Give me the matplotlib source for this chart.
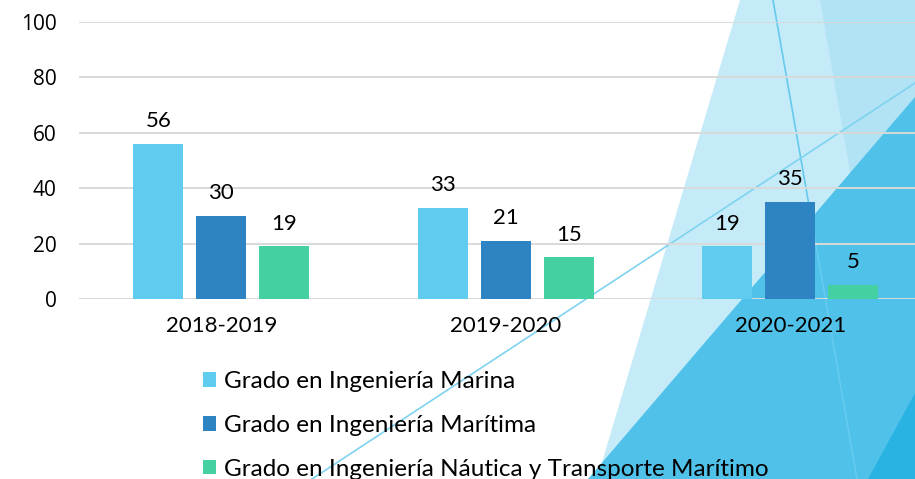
#bar chart of enrolment per degree and academic year, on the slide background

import matplotlib
matplotlib.use("Agg")
import matplotlib.pyplot as plt
from matplotlib.patches import Polygon, Patch
from matplotlib.lines import Line2D
import numpy as np

#data
years = ["2018-2019", "2019-2020", "2020-2021"]
marina = [56, 33, 19]
maritima = [30, 21, 35]
nautica = [19, 15, 5]
names = ["Grado en Ingeniería Marina",
         "Grado en Ingeniería Marítima",
         "Grado en Ingeniería Náutica y Transporte Marítimo"]
colors = ["#5ecbef", "#2e83c3", "#44d0a0"]
yticks = [0, 20, 40, 60, 80, 100]

W, H = 915, 479
fig = plt.figure(figsize=(W / 100, H / 100), dpi=100)
fig.patch.set_facecolor("white")

#background shapes, given in pixels from the top left corner
def px(points):
    return [(x / W, 1 - y / H) for x, y in points]

shapes = [
    ([(740, 0), (915, 0), (915, 479), (597, 479)], "#c6ebf8"),
    ([(820, 0), (915, 0), (915, 479), (904, 479)], "#b1e3f5"),
    ([(915, 97), (915, 479), (588, 479)], "#50c2ea"),
    ([(915, 393), (915, 479), (868, 479)], "#29b3e3"),
]
for pts, c in shapes:
    fig.patches.append(Polygon(px(pts), closed=True, facecolor=c, edgecolor="none",
                               transform=fig.transFigure, zorder=0))
for pts, c in [([(773, 0), (857, 479)], "#66c9ee"), ([(312, 479), (915, 83)], "#7ed3f1")]:
    xy = np.array(px(pts))
    fig.lines.append(Line2D(xy[:, 0], xy[:, 1], color=c, lw=1.2,
                            transform=fig.transFigure, zorder=1))

#axes
ax = fig.add_axes([79 / W, 180 / H, 836 / W, 277 / H])
ax.set_facecolor("none")
ax.set_zorder(2)

x = np.arange(len(years))
step = 0.2214
width = 0.176
for i, vals in enumerate([marina, maritima, nautica]):
    bars = ax.bar(x + (i - 1) * step, vals, width=width, color=colors[i], zorder=3,
                  label=names[i])
    for b, v in zip(bars, vals):
        ax.annotate(str(v), (b.get_x() + b.get_width() / 2, v), xytext=(0, 12),
                    textcoords="offset points", ha="center", va="baseline",
                    fontsize=16, family="Lato", color="black")

ax.set_xlim(-0.5, 2.439)
ax.set_ylim(0, 100)
ax.set_yticks(yticks)
ax.set_xticks(x)
ax.set_xticklabels(years, family="Lato", fontsize=16)
for lab in ax.get_yticklabels():
    lab.set_family("Open Sans")
    lab.set_fontsize(15)
ax.tick_params(axis="both", length=0)
ax.tick_params(axis="y", pad=16)
ax.tick_params(axis="x", pad=12)
ax.yaxis.grid(True, color="#d9d9d9", lw=1.4, zorder=1)
for s in ax.spines.values():
    s.set_visible(False)
ax.set_axisbelow(True)

#legend
handles = [Patch(facecolor=c, edgecolor="none") for c in colors]
leg = fig.legend(handles, names, loc="upper left", bbox_to_anchor=(203 / W, 1 - 371 / H),
                 frameon=False, prop={"family": "Lato", "size": 17.5},
                 handlelength=0.55, handleheight=0.55, handletextpad=0.3,
                 labelspacing=0.94, borderpad=0, borderaxespad=0)
leg.set_zorder(3)

fig.savefig("out.png", dpi=100)
